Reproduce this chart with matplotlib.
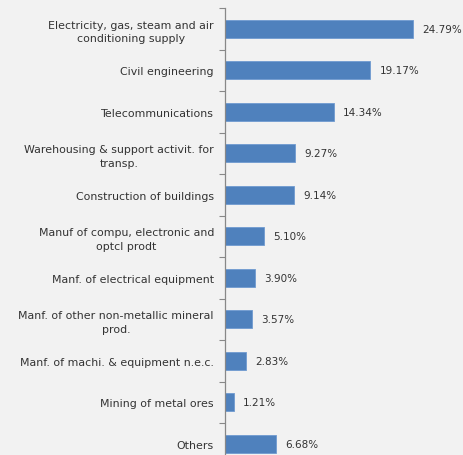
import matplotlib.pyplot as plt
import numpy as np

sectors = [
    "Electricity, gas, steam and air\nconditioning supply",
    "Civil engineering",
    "Telecommunications",
    "Warehousing & support activit. for\ntransp.",
    "Construction of buildings",
    "Manuf of compu, electronic and\noptcl prodt",
    "Manf. of electrical equipment",
    "Manf. of other non-metallic mineral\nprod.",
    "Manf. of machi. & equipment n.e.c.",
    "Mining of metal ores",
    "Others",
]
shares = [24.79, 19.17, 14.34, 9.27, 9.14, 5.10, 3.90, 3.57, 2.83, 1.21, 6.68]

bg = "#f2f2f2"
bar_color = "#4f81bd"
text_color = "#333333"

fig = plt.figure(figsize=(4.64, 4.56), dpi=100, facecolor=bg)
ax = fig.add_axes([225 / 464, -9.5 / 456, 239 / 464, 456.5 / 456])
ax.set_facecolor(bg)

y = np.arange(len(sectors))
ax.barh(y, shares, height=0.44, color=bar_color, edgecolor="#6f9bd0", linewidth=0.6)

for yi, v in zip(y, shares):
    ax.text(v + 1.2, yi, f"{v:.2f}%", va="center", ha="left",
            fontsize=7.5, color=text_color)

ax.set_xlim(0, 31.5)
ax.set_ylim(len(sectors) - 0.5, -0.5)
ax.set_yticks(y)
ax.set_yticklabels(sectors, fontsize=7.9, color=text_color,
                   multialignment="center", linespacing=1.45)
ax.set_yticks(np.arange(len(sectors) + 1) - 0.5, minor=True)
ax.tick_params(axis="y", which="major", length=0, pad=8)
ax.tick_params(axis="y", which="minor", length=4, width=0.8, color="#888888")
ax.set_xticks([])

for side in ("top", "right", "bottom"):
    ax.spines[side].set_visible(False)
ax.spines["left"].set_color("#888888")
ax.spines["left"].set_linewidth(0.9)

fig.savefig("out.png", dpi=100, facecolor=bg)
